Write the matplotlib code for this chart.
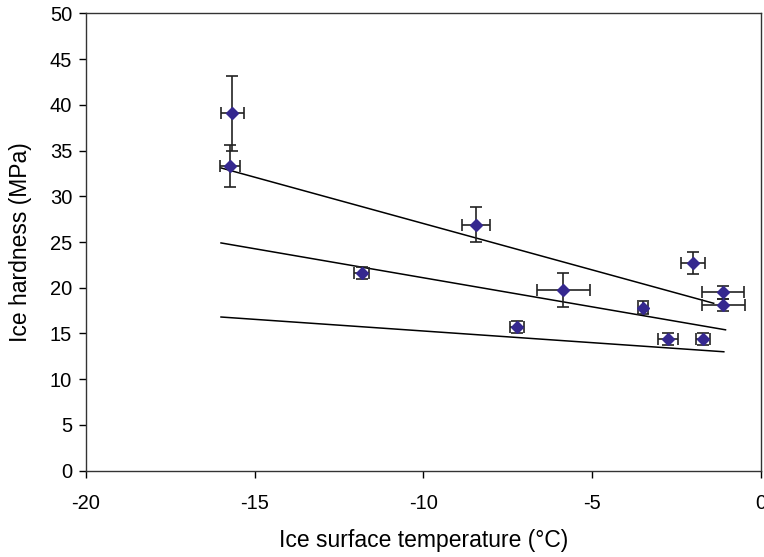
import matplotlib
matplotlib.use("Agg")
import matplotlib.pyplot as plt
import numpy as np

plt.rcParams['font.family'] = ['Liberation Sans', 'DejaVu Sans']
plt.rcParams['axes.unicode_minus'] = False

# measured points (temperature degC, hardness MPa) with error bars
temp = [-15.67, -15.73, -8.44, -11.83, -5.86, -7.24, -3.49, -2.75, -1.71, -2.01, -1.12, -1.12]
hard = [39.1, 33.3, 26.9, 21.6, 19.75, 15.74, 17.8, 14.4, 14.4, 22.7, 19.5, 18.1]
temp_err = [0.34, 0.30, 0.41, 0.22, 0.79, 0.21, 0.14, 0.30, 0.21, 0.35, 0.62, 0.64]
hard_err = [4.1, 2.3, 1.9, 0.66, 1.85, 0.66, 0.70, 0.62, 0.62, 1.25, 0.68, 0.66]

# trend lines (start / end)
upper_x = [-16.0, -1.4]
upper_y = [33.1, 18.3]
middle_x = [-16.0, -1.05]
middle_y = [24.9, 15.4]
lower_x = [-16.0, -1.1]
lower_y = [16.8, 13.0]

fig = plt.figure(figsize=(7.64, 5.57), dpi=100)
ax = fig.add_axes([0.1126, 0.155, 0.8834, 0.821])

for xs, ys in [(upper_x, upper_y), (middle_x, middle_y), (lower_x, lower_y)]:
    ax.plot(xs, ys, color='black', lw=1.1)

ax.errorbar(temp, hard, xerr=temp_err, yerr=hard_err, fmt='D', color='#35288f',
            ms=6.2, ecolor='#222222', elinewidth=1.2, capsize=4, capthick=1.2, zorder=3)

ax.set_xlim(-20, 0)
ax.set_ylim(0, 50)
ax.set_xticks(np.arange(-20, 1, 5))
ax.set_yticks(np.arange(0, 51, 5))
ax.tick_params(labelsize=14.5, direction='out', length=5, width=1)
ax.tick_params(axis='x', pad=12)
ax.tick_params(axis='y', pad=5)
for s in ax.spines.values():
    s.set_linewidth(1)
    s.set_color('#333333')

ax.set_xlabel('Ice surface temperature (°C)', fontsize=16.5)
ax.set_ylabel('Ice hardness (MPa)', fontsize=16.5)
ax.xaxis.set_label_coords(0.5, -0.128)
ax.yaxis.set_label_coords(-0.08, 0.5)

fig.savefig('out.png', dpi=100)
